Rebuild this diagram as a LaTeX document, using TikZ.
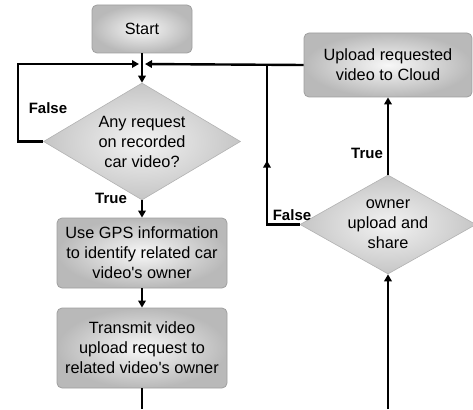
\documentclass[tikz,border=0pt]{standalone}
\usepackage{fontspec}
\setmainfont{Liberation Sans}[Ligatures=TeXOff]
\usetikzlibrary{shapes.geometric,arrows.meta,decorations.markings}

\tikzset{
  txt/.style={font=\fontsize{16.3}{20}\selectfont, align=center},
  procbox/.style={draw=gray!75, line width=0.8pt, rounded corners=5pt,
    inner color=gray!6, outer color=gray!55, txt},
  decision/.style={diamond, draw=gray!60, line width=0.6pt,
    inner color=gray!10, outer color=gray!45, inner sep=0pt},
  flow/.style={line width=2.4pt, black},
  tip/.style={-{Triangle[length=7pt,width=7.5pt]}},
  lbl/.style={font=\fontsize{15}{17}\selectfont\bfseries},
}

\begin{document}
\begin{tikzpicture}[x=1pt, y=-1pt]
  \useasboundingbox (0,0) rectangle (473,409);

  % process boxes
  \node[procbox, minimum width=100pt, minimum height=48pt] (start) at (142,29) {Start};
  \node[procbox, minimum width=170pt, minimum height=70pt] (gps) at (142,253)
    {Use GPS information\\to identify related car\\video's owner};
  \node[procbox, minimum width=170pt, minimum height=80pt] (transmit) at (142,348)
    {Transmit video\\upload request to\\related video's owner};
  \node[procbox, minimum width=168pt, minimum height=64pt] (upload) at (388,65)
    {Upload requested\\video to Cloud};

  % decisions
  \node[decision, minimum width=197pt, minimum height=117pt,
    label={[txt]center:Any request\\on recorded\\car video?}] (ask) at (142,141.5) {};
  \node[decision, minimum width=176pt, minimum height=99pt,
    label={[txt]center:owner\\upload and\\share}] (share) at (388,224.5) {};

  % junction points
  \coordinate (join) at (142,64);
  \coordinate (loopL) at (18,64);
  \coordinate (loopR) at (267,64);
  \coordinate (bottomL) at (142,409);
  \coordinate (bottomR) at (388,409);

  % main flow
  \draw[flow] (start.south) -- (join);
  \draw[flow, tip] (join) -- (ask.north);
  \draw[flow, tip] (ask.south) -- (gps.north);
  \draw[flow, tip] (gps.south) -- (transmit.north);
  \draw[flow] (transmit.south) -- (bottomL);

  % false loop of the first decision
  \draw[flow, tip, shorten >=3pt] (ask.west) -| (loopL) -- (join);

  % return from the upload box
  \draw[flow, tip, shorten >=3pt] (upload.west) -- (join);

  % owner decision
  \draw[flow, tip] (bottomR) -- (share.south);
  \draw[flow, tip] (share.north) -- (upload.south);
  \draw[flow, postaction={decorate}, decoration={markings,
      mark=at position 0.5 with {\arrow{Triangle[length=7pt,width=7.5pt]}}}]
    (share.west) -| (loopR);

  % branch labels
  \node[lbl] (f1) at (48,108) {False};
  \node[lbl] (t1) at (111,198) {True};
  \node[lbl] (f2) at (292,215) {False};
  \node[lbl] (t2) at (367,153) {True};
\end{tikzpicture}
\end{document}
